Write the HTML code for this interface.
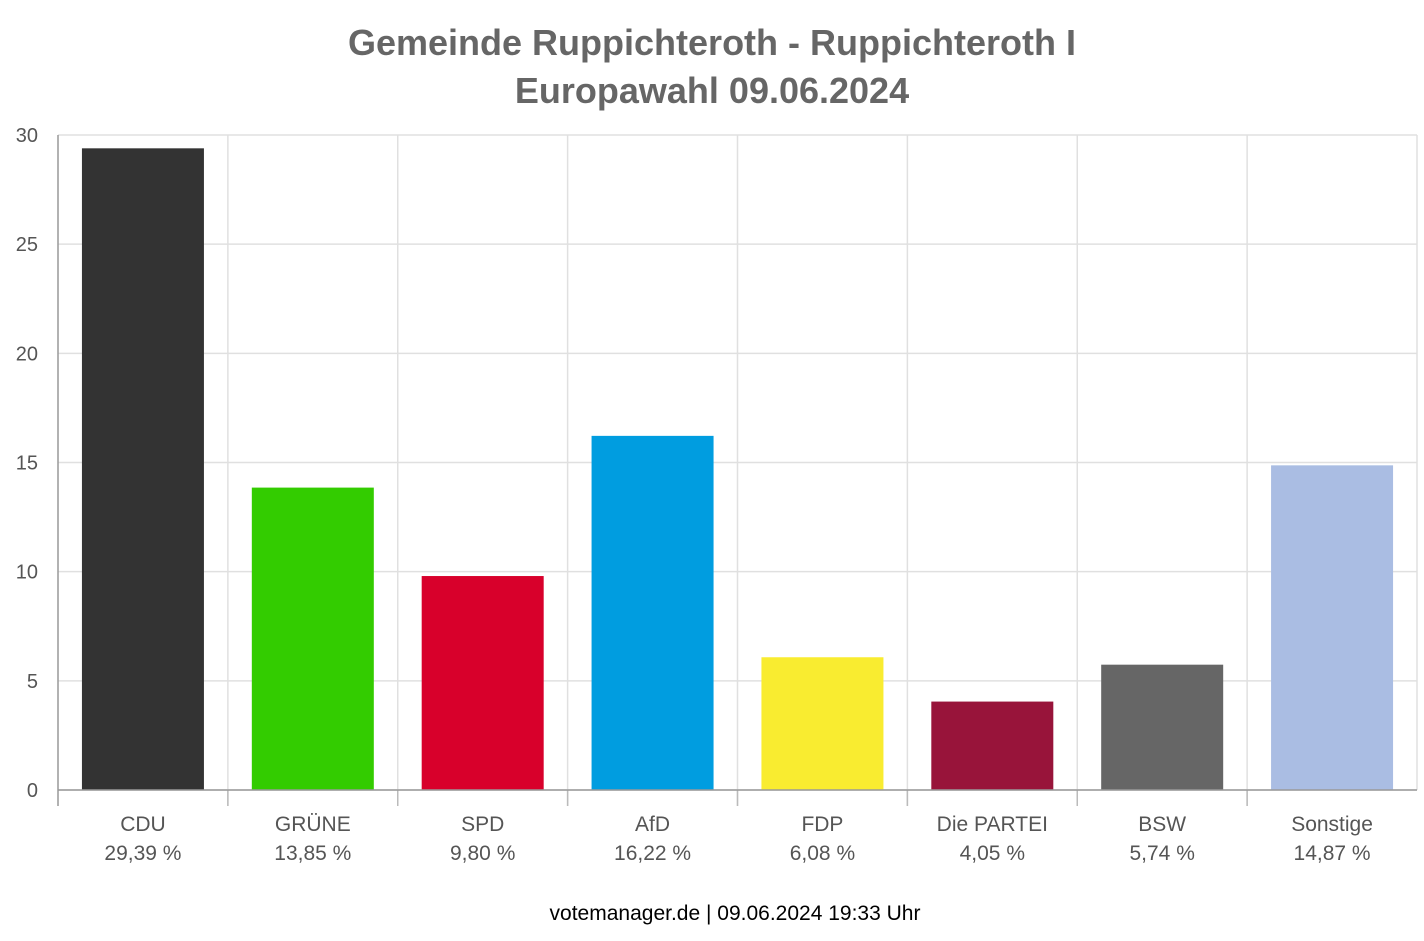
<!DOCTYPE html>
<html><head><meta charset="utf-8"><style>
body{margin:0;background:#fff;width:1424px;height:936px;overflow:hidden;font-family:"Liberation Sans",Arial,sans-serif}
</style></head><body>
<svg id="chart" width="1424" height="936" xmlns="http://www.w3.org/2000/svg" font-family="Liberation Sans, Arial, sans-serif">
<text x="712" y="55" text-anchor="middle" font-size="36" font-weight="bold" fill="#666">Gemeinde Ruppichteroth - Ruppichteroth I</text>
<text x="712" y="103" text-anchor="middle" font-size="36" font-weight="bold" fill="#666">Europawahl 09.06.2024</text>
<g id="grid"></g><g id="bars"></g><g id="axes"></g>
<text x="735" y="920" text-anchor="middle" font-size="21" fill="#000">votemanager.de | 09.06.2024 19:33 Uhr</text>
</svg>
<script>
const categories=["CDU","GRÜNE","SPD","AfD","FDP","Die PARTEI","BSW","Sonstige"];
const values=[29.39,13.85,9.80,16.22,6.08,4.05,5.74,14.87];
const colors=["#333333","#33cc00","#d8002b","#009de0","#f9ec30","#98143a","#666666","#aabde3"];
const yTicks=[0,5,10,15,20,25,30];
const NS="http://www.w3.org/2000/svg";
const x0=58,x1=1417,y0=790,yTop=135,yMax=30;
const bw=(x1-x0)/categories.length;
const y=v=>y0-(v/yMax)*(y0-yTop);
const xc=i=>x0+bw*(i+0.5);
function mk(t,a,p){const e=document.createElementNS(NS,t);for(const k in a)e.setAttribute(k,a[k]);p.appendChild(e);return e;}
const grid=document.getElementById('grid'),bars=document.getElementById('bars'),axes=document.getElementById('axes');
yTicks.forEach(t=>{
 const l=mk('line',{x1:x0,x2:x1,y1:y(t),y2:y(t),stroke:'#e0e0e0','stroke-width':1.5},grid);
 
 
 const tx=mk('text',{x:38,y:y(t)+7,'text-anchor':'end','font-size':20,fill:'#555'},axes);
 tx.textContent=t;
 
 
});
for(let i=0;i<=categories.length;i++){
 const gx=x0+bw*i;
 const l=mk('line',{x1:gx,x2:gx,y1:yTop,y2:i==0?806:(i==categories.length?y0:806),stroke:i==0?'#999':'#e0e0e0','stroke-width':1.5},grid);
 
 
 if(i>0&&i<categories.length){const tk=mk('line',{x1:gx,x2:gx,y1:y0,y2:806,stroke:'#bbb','stroke-width':1.5},axes);
 
 }
}
const base=mk('line',{x1:x0,x2:x1,y1:y0,y2:y0,stroke:'#999','stroke-width':1.5},axes);


categories.forEach((c,i)=>{
 const w=122;
 const r=mk('rect',{x:xc(i)-w/2,y:y(values[i]),width:w,height:y0-y(values[i]),fill:colors[i]},bars);
 
 
 const t1=mk('text',{x:xc(i),y:831,'text-anchor':'middle','font-size':21,fill:'#555'},axes);
 t1.textContent=c;
 
 
 const t2=mk('text',{x:xc(i),y:860,'text-anchor':'middle','font-size':21,fill:'#555'},axes);
 t2.textContent=values[i].toFixed(2).replace('.',',')+' %';
 
 
});
</script>
</body></html>
